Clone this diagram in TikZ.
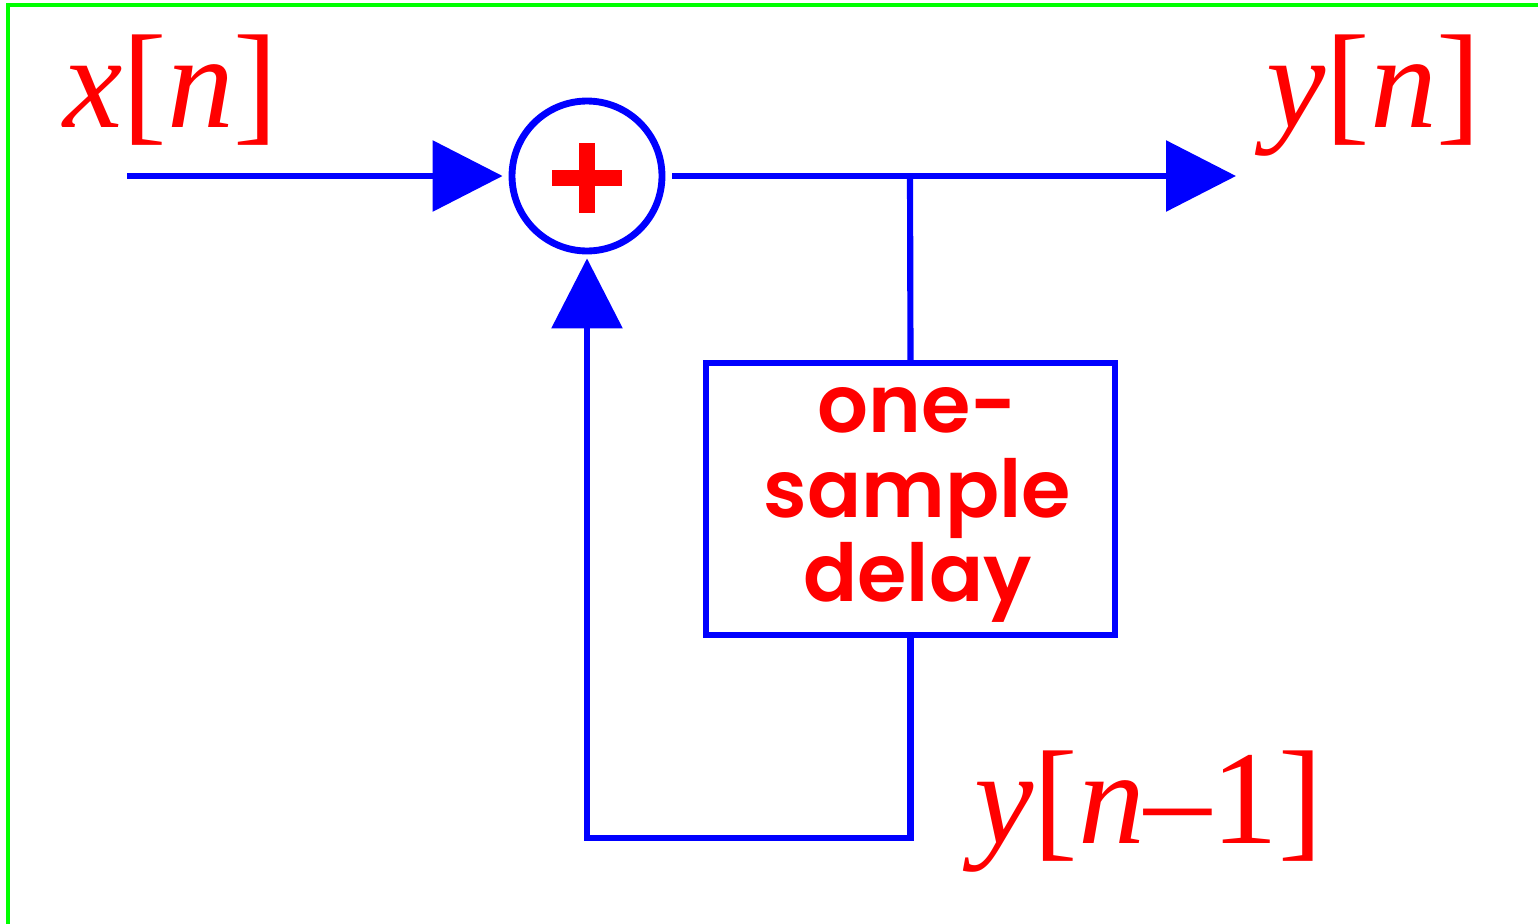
\documentclass[tikz,border=0pt]{standalone}
\usepackage{fontspec}
\setmainfont{Liberation Serif}
\newfontfamily\delayfont{Poppins}[BoldFont={* SemiBold}]
\usetikzlibrary{arrows.meta}

\begin{document}
\begin{tikzpicture}[x=0.02cm, y=-0.02cm,
  sig/.style={blue, line width=3.5pt},
  tip/.style={-{Triangle[length=1.4cm, width=1.4cm]}},
  lbl/.style={red, anchor=base west, inner sep=0pt, font=\fontsize{76}{80}\selectfont}]
  \useasboundingbox (0,0) rectangle (1538,923);
  \draw[green, line width=2pt] (8,5) rectangle (1560,940);

  % adder and delay block
  \node[circle, draw=blue, line width=3.9pt, minimum size=3cm, inner sep=0pt] (sum) at (587,176) {};
  \fill[red] (552,170) rectangle (622,186);
  \fill[red] (579,143) rectangle (595,213);
  \node[draw=blue, line width=3.5pt, minimum width=8.18cm, minimum height=5.44cm,
    align=center, text depth=5pt, text=red, font=\delayfont\bfseries\fontsize{45.5}{48.2}\selectfont]
    (delay) at (910.5,499)
    {\hspace*{0.28cm}one-\\\hspace*{0.28cm}sample\\\hspace*{0.28cm}delay};

  \coordinate (xin) at (127,176);
  \coordinate (branch) at (910,176);
  \coordinate (yout) at (1236,176);
  \coordinate (back) at (587,838);

  \draw[sig, tip, shorten >=0.12cm] (xin) -- (sum.west);
  \draw[sig, tip, shorten <=0.14cm] (sum.east) -- (yout);
  \draw[sig] (branch) -- (delay.north);
  \draw[sig, tip, shorten >=0.08cm] (delay.south) |- (back) -- (sum.south);

  % signal labels
  \node[lbl] (xlbl) at (63,127) {\textit{x}[\textit{n}]};
  \node[lbl] (ylbl) at (1266,127) {\textit{y}[\textit{n}]};
  \node[lbl] (dlbl) at (974,843) {\textit{y}[\textit{n}–1]};
\end{tikzpicture}
\end{document}
